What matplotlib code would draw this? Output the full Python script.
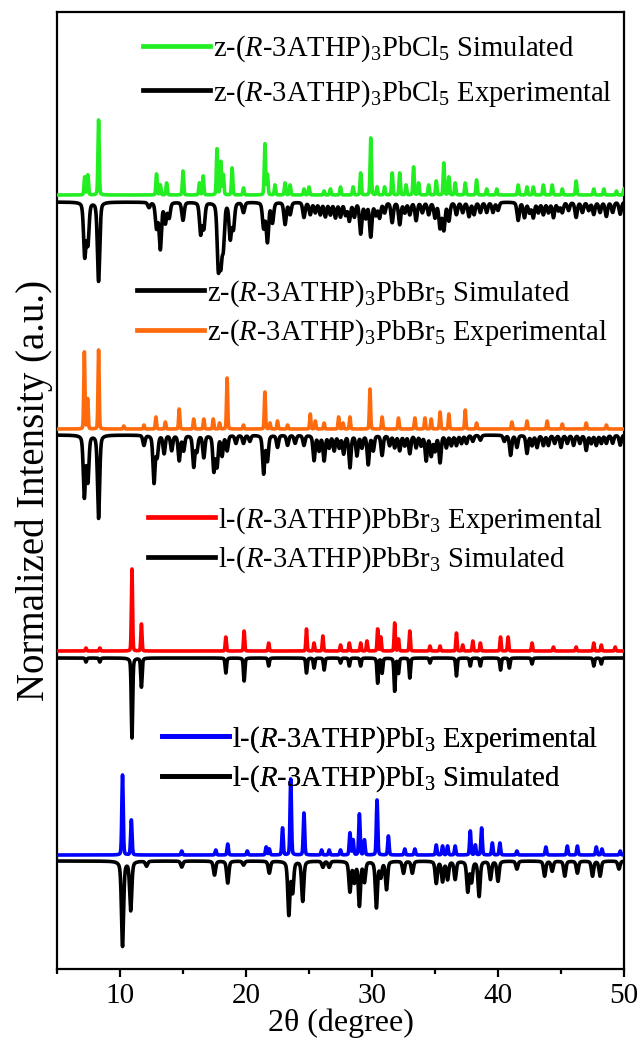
import numpy as np
import matplotlib
matplotlib.use("Agg")
import matplotlib.pyplot as plt
from matplotlib.lines import Line2D
from matplotlib.ticker import MultipleLocator

plt.rcParams["font.family"] = ["Liberation Serif", "DejaVu Serif"]
plt.rcParams["mathtext.fontset"] = "custom"
plt.rcParams["mathtext.rm"] = "Liberation Serif"
plt.rcParams["mathtext.it"] = "Liberation Serif:italic"

# ---- peak lists (2theta in degree, peak height in plot units) ----
# z-(R-3ATHP)3PbCl5
cl_sim_pos = [7.2, 7.45, 8.3, 12.9, 13.2, 13.7, 15.0, 16.3, 16.6, 17.7, 18.0, 18.2, 18.9,
              19.8, 21.5, 21.7, 22.3, 23.1, 23.5, 24.6, 25.0, 26.2, 26.7, 27.5, 28.5, 29.1,
              29.9, 30.4, 31.0, 31.6, 32.2, 32.7, 33.3, 33.7, 34.5, 35.1, 35.7, 36.1, 36.6,
              37.4, 38.3, 39.1, 39.9, 41.6, 42.3, 42.8, 43.6, 44.3, 45.1, 46.2, 47.6, 48.4,
              49.4, 50.0]
cl_sim_h = [18, 20, 75, 21, 10, 12, 24, 12, 19, 46, 33, 20, 27, 7, 51, 20, 10, 12, 10, 6, 8,
            4, 6, 8, 8, 22, 57, 8, 8, 22, 22, 10, 28, 12, 10, 14, 32, 18, 12, 12, 15, 6, 6,
            10, 8, 8, 10, 10, 6, 14, 6, 6, 4, 6]
cl_exp_pos = [7.2, 7.45, 8.3, 12.3, 12.9, 13.2, 13.6, 13.9, 15.0, 16.4, 16.65, 17.8, 18.0,
              18.2, 18.75, 19.0, 19.8, 21.4, 21.7, 22.1, 23.1, 23.5, 24.6, 25.1, 25.5, 25.9,
              26.3, 26.7, 27.1, 27.5, 27.9, 28.2, 28.6, 29.1, 29.5, 29.9, 30.3, 30.6, 31.0,
              31.6, 32.2, 32.6, 33.0, 33.5, 34.0, 34.5, 35.0, 35.4, 35.7, 36.1, 36.7, 37.2,
              37.7, 38.1, 38.6, 39.1, 39.6, 40.0, 41.6, 42.1, 42.5, 42.8, 43.2, 43.6, 44.0,
              44.4, 44.8, 45.1, 45.6, 46.2, 46.7, 47.2, 47.6, 48.1, 48.6, 49.1, 49.7]
cl_exp_h = [53, 40, 79, 5, 25, 46, 20, 15, 18, 31, 25, 61, 53, 40, 35, 25, 10, 25, 39, 20, 22,
            12, 15, 12, 10, 12, 14, 12, 15, 14, 12, 18, 14, 31, 15, 34, 12, 15, 10, 20, 22,
            10, 12, 18, 10, 12, 15, 25, 27, 18, 12, 10, 14, 12, 10, 10, 10, 8, 18, 15, 10,
            15, 10, 12, 10, 15, 8, 10, 8, 15, 10, 8, 12, 10, 14, 10, 12]

# z-(R-3ATHP)3PbBr5
br5_exp_pos = [7.17, 7.43, 8.3, 10.3, 11.9, 12.85, 13.6, 14.7, 15.85, 16.65, 17.4, 17.9, 18.5,
               19.8, 21.5, 21.9, 22.5, 23.3, 25.1, 25.5, 26.2, 27.35, 27.7, 28.25, 29.84,
               30.8, 32.1, 33.4, 34.2, 34.7, 35.4, 36.1, 37.4, 38.3, 41.1, 42.3, 43.9, 45.1,
               47.0, 48.6]
br5_exp_h = [77, 30, 79, 3, 4, 12, 7, 20, 10, 10, 10, 6, 51, 4, 37, 6, 8, 4, 15, 8, 6, 12, 6,
             12, 40, 12, 11, 11, 11, 10, 17, 15, 19, 6, 7, 8, 8, 5, 6, 4]
br5_sim_pos = [7.17, 7.45, 8.3, 11.9, 12.7, 12.95, 13.5, 14.1, 14.7, 15.05, 15.85, 16.1, 16.65,
               17.45, 17.7, 18.1, 18.5, 19.2, 19.8, 20.3, 21.4, 21.7, 22.5, 23.3, 23.9, 24.6,
               25.4, 25.8, 26.2, 26.6, 27.0, 27.4, 27.75, 28.25, 28.8, 29.2, 29.7, 30.1, 30.8,
               31.4, 31.8, 32.2, 32.6, 33.0, 33.5, 33.9, 34.3, 34.7, 35.0, 35.4, 35.9, 36.3,
               36.7, 37.1, 37.5, 38.0, 38.6, 40.5, 41.0, 41.5, 42.3, 42.7, 43.1, 43.6, 44.0,
               44.5, 45.0, 45.5, 46.0, 46.5, 47.0, 47.4, 47.8, 48.2, 48.6, 49.1, 49.7]
br5_sim_h = [61, 45, 83, 10, 47, 20, 18, 15, 25, 15, 31, 15, 22, 35, 30, 20, 15, 8, 8, 6, 38,
             25, 12, 10, 8, 10, 25, 15, 25, 12, 15, 12, 18, 32, 20, 12, 29, 15, 20, 10, 12,
             15, 10, 18, 12, 10, 25, 20, 15, 27, 12, 10, 10, 8, 8, 6, 5, 6, 20, 12, 18, 10,
             12, 10, 10, 8, 12, 8, 10, 8, 15, 8, 10, 8, 8, 8, 10]

# l-(R-3ATHP)PbBr3
br3_exp_pos = [7.3, 8.4, 10.95, 11.7, 18.4, 19.85, 21.8, 24.8, 25.4, 26.1, 27.5, 28.2, 29.1,
               29.6, 30.45, 30.7, 31.8, 32.1, 33.0, 34.6, 35.4, 36.7, 37.2, 38.0, 38.6, 40.2,
               40.8, 42.7, 44.4, 46.2, 47.6, 48.2, 49.3]
br3_exp_h = [3, 3, 82, 27, 14, 20, 8, 22, 8, 15, 6, 8, 8, 10, 22, 14, 28, 12, 20, 5, 5, 18, 6,
             10, 8, 14, 14, 8, 4, 4, 8, 6, 4]
br3_sim_pos = [7.3, 8.4, 10.95, 11.7, 18.4, 19.85, 21.8, 24.8, 25.4, 26.2, 27.5, 28.2, 29.1,
               30.45, 30.8, 31.8, 32.1, 33.0, 34.6, 36.7, 37.8, 38.6, 40.2, 40.9, 42.7, 47.6,
               48.2]
br3_sim_h = [4, 4, 80, 29, 15, 23, 8, 15, 10, 12, 5, 8, 8, 25, 15, 33, 15, 20, 5, 18, 8, 8,
             12, 10, 6, 8, 6]

# l-(R-3ATHP)PbI3
i3_exp_pos = [10.2, 10.9, 14.9, 17.6, 18.55, 20.1, 21.6, 21.85, 22.9, 23.55, 24.6, 26.0, 26.6,
              27.5, 28.25, 28.5, 29.0, 29.4, 30.4, 31.3, 32.6, 33.4, 35.1, 35.6, 36.0, 36.6,
              37.8, 38.2, 38.7, 39.55, 40.15, 41.5, 43.8, 45.5, 46.3, 47.8, 48.25, 49.7]
i3_exp_h = [80, 35, 4, 5, 11, 4, 8, 6, 27, 76, 42, 5, 5, 5, 22, 15, 41, 15, 55, 19, 6, 6, 10,
            9, 9, 9, 24, 10, 27, 12, 12, 4, 8, 9, 9, 8, 6, 4]
i3_sim_pos = [10.2, 10.85, 12.1, 14.9, 17.5, 18.55, 19.8, 21.85, 23.4, 23.7, 24.5, 26.1, 26.6,
              28.25, 28.6, 29.0, 29.4, 30.35, 30.7, 31.15, 32.5, 33.2, 35.1, 35.6, 36.0, 36.6,
              37.6, 37.9, 38.5, 39.4, 40.0, 41.5, 43.7, 44.3, 45.3, 46.3, 47.5, 48.1, 49.6]
i3_sim_h = [85, 49, 5, 6, 14, 22, 4, 12, 53, 30, 40, 6, 6, 30, 20, 44, 20, 46, 15, 28, 12, 12,
            22, 20, 18, 18, 30, 20, 35, 18, 20, 8, 15, 10, 15, 12, 15, 15, 8]

labels = [
    ("z-($R$-3ATHP)$_3$PbCl$_5$ Simulated", "z-($R$-3ATHP)$_3$PbCl$_5$ Experimental"),
    ("z-($R$-3ATHP)$_3$PbBr$_5$ Simulated", "z-($R$-3ATHP)$_3$PbBr$_5$ Experimental"),
    ("l-($R$-3ATHP)PbBr$_3$ Experimental", "l-($R$-3ATHP)PbBr$_3$ Simulated"),
    ("l-($R$-3ATHP)PbI$_3$ Experimental", "l-($R$-3ATHP)PbI$_3$ Simulated"),
]

GREEN, ORANGE, RED, BLUE, BLACK = "#22EE22", "#FF6A0D", "#FF0000", "#0000FF", "#000000"


def pattern(x, pos, amp, fwhm, eta):
    """Pseudo-Voigt sum of diffraction peaks."""
    y = np.zeros_like(x)
    hw = fwhm / 2.0
    for p, a in zip(pos, amp):
        d = (x - p) / hw
        y += a * (eta / (1 + d ** 2) + (1 - eta) * np.exp(-np.log(2) * d ** 2))
    return y


x = np.arange(5.0, 50.0001, 0.005)

fig = plt.figure(figsize=(6.43, 10.42), dpi=100)
ax = fig.add_axes([57 / 643, 73 / 1042, 567 / 643, 957 / 1042])

LW = 2.6
# (up-pattern, down-pattern, baseline up, baseline down, colours) ; pattern = (pos, h, fwhm, eta)
stacks = [
    ((cl_sim_pos, cl_sim_h, 0.12, 0.2), (cl_exp_pos, cl_exp_h, 0.22, 0.35), 774, 767, GREEN, BLACK),
    ((br5_exp_pos, br5_exp_h, 0.11, 0.15), (br5_sim_pos, br5_sim_h, 0.2, 0.4), 540, 534, ORANGE, BLACK),
    ((br3_exp_pos, br3_exp_h, 0.11, 0.15), (br3_sim_pos, br3_sim_h, 0.13, 0.35), 318, 311, RED, BLACK),
    ((i3_exp_pos, i3_exp_h, 0.13, 0.2), (i3_sim_pos, i3_sim_h, 0.2, 0.45), 114, 108, BLUE, BLACK),
]

for up, down, b_up, b_down, c_up, c_down in stacks:
    ax.plot(x, b_down - pattern(x, down[0], down[1], down[2], down[3]), color=c_down, lw=LW,
            solid_joinstyle="round", zorder=2)
    ax.plot(x, b_up + pattern(x, up[0], up[1], up[2], up[3]), color=c_up, lw=LW,
            solid_joinstyle="round", zorder=3)

# legends: (left edge px, centre px, colours of the two entries, spacing)
FS = 20.6
legend_specs = [
    (143, 71, (GREEN, BLACK), labels[0], 0.5),
    (137, 313, (BLACK, ORANGE), labels[1], 0.3),
    (148, 540, (RED, BLACK), labels[2], 0.3),
    (162, 759, (BLUE, BLACK), labels[3], 0.3),
]
for lx, ly, cols, labs, sp in legend_specs:
    handles = [Line2D([], [], color=c, lw=3.4) for c in cols]
    leg = ax.legend(handles, labs, loc="center left",
                    bbox_to_anchor=((lx - 57) / 567, (969 - ly) / 957),
                    frameon=False, fontsize=FS, handlelength=2.35, handletextpad=0.1,
                    borderpad=0, borderaxespad=0, labelspacing=sp)
    ax.add_artist(leg)

ax.set_xlim(5, 50)
ax.set_ylim(0, 957)
ax.set_yticks([])
ax.xaxis.set_major_locator(MultipleLocator(10))
ax.xaxis.set_minor_locator(MultipleLocator(5))
ax.tick_params(axis="x", which="major", direction="out", length=6, width=1.6, labelsize=21, pad=4)
ax.tick_params(axis="x", which="minor", direction="out", length=3.5, width=1.6)
for s in ax.spines.values():
    s.set_linewidth(1.6)
ax.set_xlabel("2θ (degree)", fontsize=23, labelpad=0)
ax.set_ylabel("Normalized Intensity (a.u.)", fontsize=28, labelpad=3)

fig.savefig("out.png", dpi=100)
